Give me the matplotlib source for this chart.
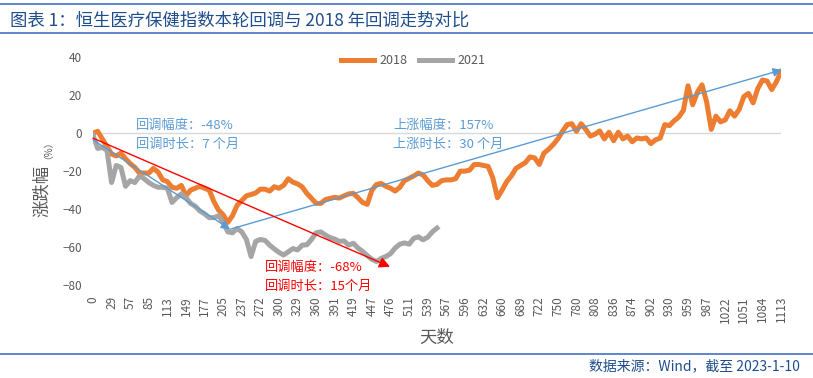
import numpy as np
import matplotlib
matplotlib.use('Agg')
import matplotlib.pyplot as plt

plt.rcParams['font.family'] = ['Noto Sans CJK SC', 'DejaVu Sans']
plt.rcParams['axes.unicode_minus'] = True

# 2018 cycle (orange), one value per ~5 trading days
y2018 = [0, 1, -3, -7, -11, -12, -10.5, -13.5, -16, -18,
         -21, -21, -21, -18.5, -20.5, -24.6, -25.5, -28.5, -29, -27.5,
         -33, -30, -29, -28, -29, -30, -36, -40.5, -43, -47,
         -43.5, -38, -35.5, -33, -32.3, -31.5, -29.5, -29.5, -30.5, -28.2,
         -29, -27.5, -24, -25.8, -26.7, -28.3, -31.7, -34.3, -37, -37,
         -35, -34.3, -33.8, -34.2, -33, -32, -31.7, -34, -36.5, -37.5,
         -30, -27, -26.5, -28, -29, -30.5, -28.5, -25, -23.8, -22.5,
         -21, -22, -25, -27.5, -27, -25, -24.6, -24.6, -24, -20,
         -20, -19.5, -16.5, -16.5, -17, -17.5, -23.5, -34, -30, -25.5,
         -22.5, -18.5, -17, -15.5, -12.5, -13, -16.5, -10.5, -8.5, -6,
         -3, 1, 4.5, 5, 1, 5, 2, -1.5, -0.5, 1.2,
         -3, 0.5, -4, 0.5, -3, -1.5, -4.5, -2.5, -3, -2.5,
         -5.5, -3.5, -2.6, 4.5, 4, 6.5, 8.5, 12, 25, 15,
         21.5, 25.5, 16.5, 2, 9, 6, 7, 11.8, 9, 12.5,
         19.3, 21, 16, 23.5, 28, 27.5, 23, 27, 32.5]

# current cycle (grey)
y2021 = [-1, -8, -7.5, -9, -26, -17, -18, -28, -25, -26,
         -22.5, -24, -26, -27.5, -28.5, -28.5, -29, -36.5, -34, -32,
         -34, -37, -38.5, -41, -42.5, -44.5, -44.5, -43.5, -47, -52,
         -52.5, -50.2, -52, -56, -65, -57, -56, -56.5, -59, -61,
         -62.8, -64.2, -62.5, -60.8, -61.5, -59, -58.8, -56, -52.5, -52,
         -53.7, -55, -55.8, -57, -56.8, -59, -58, -60.5, -62.3, -64.5,
         -66.5, -67.6, -66, -65, -63.5, -60.5, -58.5, -57.8, -58.5, -55.4,
         -54.6, -56.2, -54.8, -52, -50]

day_labels = ['0', '29', '57', '85', '113', '149', '177', '205', '237', '272',
              '300', '329', '360', '391', '419', '447', '476', '511', '539', '567',
              '596', '632', '660', '689', '722', '750', '780', '808', '836', '874',
              '902', '930', '959', '987', '1022', '1051', '1084', '1113']

ORANGE = '#ED7D31'
GREY = '#A5A5A5'
BLUE = '#5B9BD5'
RED = '#FF0000'
TXT = '#595959'
NAVY = '#1F4E8C'

fig = plt.figure(figsize=(8.13, 3.78), dpi=100)
ax = fig.add_axes([93 / 813, 1 - 285 / 378, 688 / 813, (285 - 57.3) / 378])

x18 = np.arange(len(y2018))
x21 = np.arange(len(y2021))
ax.axhline(0, color='#D9D9D9', lw=1, zorder=1)
ax.plot(x18, y2018, color=ORANGE, lw=3.6, label='2018', zorder=3, solid_joinstyle='round')
ax.plot(x21, y2021, color=GREY, lw=3.6, label='2021', zorder=3, solid_joinstyle='round')

ax.set_xlim(0, len(y2018) - 1)
ax.set_ylim(-80, 40)
ax.set_yticks([40, 20, 0, -20, -40, -60, -80])
ax.set_xticks(np.arange(0, len(y2018), 4))
ax.set_xticklabels(day_labels, rotation=90)
ax.tick_params(axis='both', length=0, labelsize=8.5, labelcolor=TXT)
ax.tick_params(axis='x', pad=8)
ax.tick_params(axis='y', pad=8)
for s in ax.spines.values():
    s.set_visible(False)

# arrows
arr = dict(arrowstyle='-|>', color=BLUE, lw=1, mutation_scale=13, shrinkA=0, shrinkB=0)
ax.annotate('', xy=(29.5, -50.6), xytext=(0, -3.5), arrowprops=arr, zorder=5)
ax.annotate('', xy=(148.2, 33.4), xytext=(29.5, -50.6), arrowprops=arr, zorder=5,
            annotation_clip=False)
ax.annotate('', xy=(63.9, -70.4), xytext=(0, -2.6), zorder=5,
            arrowprops=dict(arrowstyle='-|>', color=RED, lw=1, mutation_scale=16,
                            shrinkA=0, shrinkB=0))

def ftext(x, y, s, **kw):
    fig.text(x / 813, 1 - y / 378, s, **kw)

ftext(136, 125, '回调幅度：-48%', color=BLUE, fontsize=9.5, va='center')
ftext(136, 144, '回调时长：7 个月', color=BLUE, fontsize=9.5, va='center')
ftext(393, 125, '上涨幅度：157%', color=BLUE, fontsize=9.5, va='center')
ftext(393, 144, '上涨时长：30 个月', color=BLUE, fontsize=9.5, va='center')
ftext(265, 267, '回调幅度：-68%', color=RED, fontsize=9.5, va='center')
ftext(265, 286, '回调时长：15个月', color=RED, fontsize=9.5, va='center')

# axis titles
ftext(42, 191, '涨跌幅', color=TXT, fontsize=12.5, rotation=90, ha='center', va='center')
ftext(43, 145, '（%）', color=TXT, fontsize=7, rotation=90, ha='center', va='center')
ftext(437, 338, '天数', color=TXT, fontsize=12.5, ha='center', va='center')

leg = fig.legend(loc='center', bbox_to_anchor=(413 / 813, 1 - 61 / 378), ncol=2,
                 frameon=False, fontsize=9, handlelength=2.7, columnspacing=0.9,
                 handletextpad=0.4)
for t in leg.get_texts():
    t.set_color(TXT)

# header / footer
for yy in (4, 33, 354):
    fig.add_artist(plt.Line2D([0, 1], [1 - yy / 378] * 2, color='#4472C4', lw=1.2))
ftext(10, 21, '图表 1：恒生医疗保健指数本轮回调与 2018 年回调走势对比', color=NAVY,
      fontsize=12.5, va='center')
ftext(800, 366, '数据来源：Wind，截至 2023-1-10', color=NAVY, fontsize=10,
      ha='right', va='center')

fig.savefig('out.png', dpi=100)
